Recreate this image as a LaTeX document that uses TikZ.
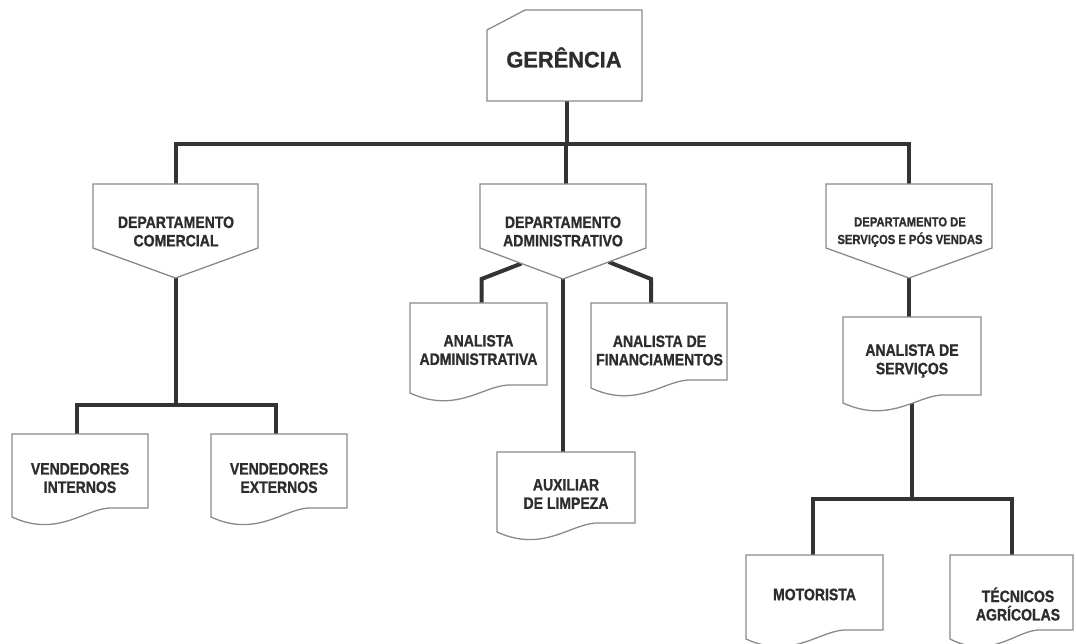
\documentclass[tikz,border=0pt]{standalone}
\usepackage{fontspec}
\newfontfamily\cf{Liberation Sans Bold}[FakeStretch=0.85, FakeBold=1.0]
\newfontfamily\gf{Liberation Sans Bold}[FakeStretch=0.97, FakeBold=1.0]
\usetikzlibrary{calc,backgrounds}
\definecolor{conncol}{HTML}{333333}
\definecolor{boxcol}{HTML}{8A8A8A}
\definecolor{txtcol}{HTML}{2D2D2D}
\tikzset{
  conn/.style={line width=4pt, draw=conncol, line join=miter},
  boxline/.style={line width=1.3pt, draw=boxcol, fill=white, line join=miter},
  hitbox/.style={draw=none, inner sep=0pt, outer sep=0pt, rectangle},
  txt/.style={font=\cf\bfseries\fontsize{16.5}{18.4}\selectfont, text=txtcol, align=center, inner sep=0pt},
  smalltxt/.style={font=\cf\bfseries\fontsize{13.2}{17.6}\selectfont, text=txtcol, align=center, inner sep=0pt},
  bigtxt/.style={font=\gf\bfseries\fontsize{22.5}{26}\selectfont, text=txtcol, align=center, inner sep=0pt},
}
% invisible box node: name, x1, top, x2, bottom
\newcommand\mkbox[5]{%
  \pgfmathsetmacro\bw{#4-#2}\pgfmathsetmacro\bh{#5-#3}%
  \node[hitbox,minimum width=\bw pt,minimum height=\bh pt] (#1) at ({(#2+#4)/2},{(#3+#5)/2}) {};}
% document outline: name, extra drop of the left end
\newcommand\docshape[2]{%
  \draw[boxline] (#1.north west) -- (#1.north east) -- (#1.south east)
    -- ($(#1.south west)!0.75!(#1.south east)$)
    .. controls ($(#1.south west)!0.55!(#1.south east)+(0,-2)$) and ($(#1.south west)!0.35!(#1.south east)+(0,#2+22)$)
    .. ($(#1.south west)+(0,#2)$) -- cycle;}
% pentagon outline: name, side height
\newcommand\deptshape[2]{%
  \coordinate (#1-l) at ($(#1.north west)+(0,#2)$);
  \coordinate (#1-r) at ($(#1.north east)+(0,#2)$);
  \draw[boxline] (#1.north west) -- (#1.north east) -- (#1-r) -- (#1.south) -- (#1-l) -- cycle;}
\begin{document}
\begin{tikzpicture}[x=1pt,y=-1pt]
\useasboundingbox (0,0) rectangle (1076,644);
\begin{scope}[on background layer]
  \fill[white] (0,0) rectangle (1076,644);
\end{scope}
\clip (0,0) rectangle (1076,644);

% ---- nodes (shapes) ----
\mkbox{ger}{487}{10}{642}{101}
\mkbox{dc}{93}{184}{258}{278}
\mkbox{da}{480}{184}{646}{279}
\mkbox{ds}{826}{184}{992}{278}
\mkbox{vi}{12}{434}{148}{508}
\mkbox{ve}{211}{434}{347}{508}
\mkbox{aa}{410}{303}{547}{385}
\mkbox{af}{591}{303}{727}{380}
\mkbox{al}{497}{452}{635}{523}
\mkbox{as}{843}{317}{981}{395}
\mkbox{mo}{746}{555}{883}{630}
\mkbox{te}{950}{555}{1073}{630}

% Gerencia card
\draw[boxline] ($(ger.north west)+(0,20)$) -- ($(ger.north west)+(38,0)$) -- (ger.north east)
  -- (ger.south east) -- (ger.south west) -- cycle;
\deptshape{dc}{64}
\deptshape{da}{64}
\deptshape{ds}{64}
\docshape{vi}{9}
\docshape{ve}{9}
\docshape{aa}{8}
\docshape{af}{8}
\docshape{al}{9}
\docshape{as}{8}
\docshape{mo}{9}
\docshape{te}{9}

% ---- texts ----
\node[bigtxt] (ger-t) at (564,57.5) {GERÊNCIA};
\node[txt] (dc-t) at (176,231.5) {DEPARTAMENTO\\COMERCIAL};
\node[txt] (da-t) at (563,231.5) {DEPARTAMENTO\\ADMINISTRATIVO};
\node[smalltxt] (ds-t) at (910,232) {DEPARTAMENTO DE\\SERVIÇOS E PÓS VENDAS};
\node[txt] (vi-t) at (80,478) {VENDEDORES\\INTERNOS};
\node[txt] (ve-t) at (279,478) {VENDEDORES\\EXTERNOS};
\node[txt] (aa-t) at (478.5,350) {ANALISTA\\ADMINISTRATIVA};
\node[txt] (af-t) at (659.5,350.5) {ANALISTA DE\\FINANCIAMENTOS};
\node[txt] (al-t) at (566,494) {AUXILIAR\\DE LIMPEZA};
\node[txt] (as-t) at (912,361) {ANALISTA DE\\SERVIÇOS};
\node[txt] (mo-t) at (814.5,594.5) {MOTORISTA};
\node[txt] (te-t) at (1018,604) {TÉCNICOS\\AGRÍCOLAS};

% ---- connectors ----
\begin{scope}[on background layer]
  \coordinate (b1) at (566,144);
  \coordinate (gs) at ([xshift=2pt]ger.south);
  \coordinate (dan) at ([xshift=3pt]da.north);
  \draw[conn] (gs) -- (gs |- b1);
  \draw[conn] (dc.north) -- (dc.north |- b1) -- (ds.north |- b1) -- (ds.north);
  \draw[conn] (dan |- b1) -- (dan);

  \coordinate (b2) at (176,405);
  \coordinate (vin) at ([xshift=-3pt]vi.north);
  \coordinate (ven) at ([xshift=-3pt]ve.north);
  \draw[conn] (dc.south) -- (dc.south |- b2);
  \draw[conn] (vin) -- (vin |- b2) -- (ven |- b2) -- (ven);

  \coordinate (aan) at ([xshift=3pt]aa.north);
  \coordinate (afn) at ([xshift=-8pt]af.north);
  \draw[conn] ($(da-l)!0.5!(da.south)$) -- (aan |- da.south) -- (aan);
  \draw[conn] ($(da-r)!0.45!(da.south)$) -- (afn |- da.south) -- (afn);
  \draw[conn] (da.south) -- (da.south |- al.north);

  \draw[conn] (ds.south) -- (ds.south |- as.north);
  \coordinate (b3) at (912,499);
  \coordinate (mon) at ([xshift=-1.5pt]mo.north);
  \draw[conn] (as.south) -- (b3);
  \draw[conn] (mon) -- (mon |- b3) -- (te.north |- b3) -- (te.north);
\end{scope}
\end{tikzpicture}
\end{document}
